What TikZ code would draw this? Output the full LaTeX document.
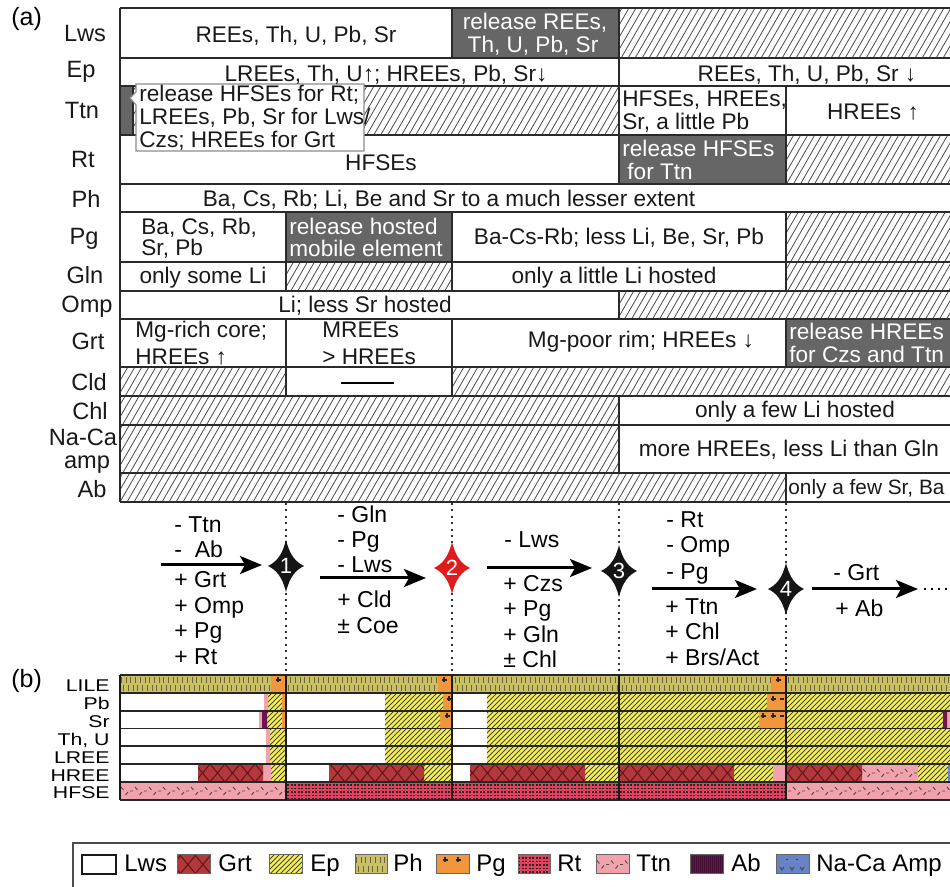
\documentclass[tikz,border=0pt]{standalone}
\usepackage{fontspec}
\setmainfont{Liberation Sans}
\usetikzlibrary{arrows.meta}
\definecolor{gcell}{HTML}{666666}
\definecolor{tlinec}{HTML}{2A2A2A}
\definecolor{phc}{HTML}{C9BF67}
\definecolor{phl}{HTML}{6B6532}
\definecolor{epc}{HTML}{F4EE5E}
\definecolor{epl}{HTML}{4A4820}
\definecolor{grc}{HTML}{B3383C}
\definecolor{grl}{HTML}{5E1518}
\definecolor{rtc}{HTML}{E3405E}
\definecolor{ttc}{HTML}{F2A2AC}
\definecolor{pgc}{HTML}{F2963E}
\definecolor{abc}{HTML}{6E1452}
\definecolor{amc}{HTML}{6683C6}
\definecolor{redstar}{HTML}{E11B1B}
\definecolor{blackstar}{HTML}{151515}

\newcommand\EpPat[3]{\begin{scope}\clip #1;\fill[epc] (60,#2) rectangle (960,#3);
 \foreach \i in {-100,-95,...,955}{\draw[epl,line width=0.45pt] (\i,#3) -- ++({#3-#2},{#2-#3});}\end{scope}}
\newcommand\GrtPat[3]{\begin{scope}\clip #1;\fill[grc] (60,#2) rectangle (960,#3);
 \foreach \i in {60,75,...,960}{\draw[grl,line width=0.5pt] (\i,#2) -- ++({(#3-#2)/1.2},{#3-#2}) (\i,#3) -- ++({(#3-#2)/1.2},{#2-#3});}\end{scope}}
\newcommand\RtPat[3]{\begin{scope}\clip #1;\fill[rtc] (60,#2) rectangle (960,#3);
 \foreach \j in {3,6.5,...,20}{\draw[black!85,line width=0.8pt,dash pattern=on 0.8pt off 0.95pt] (60,#2+\j) -- (960,#2+\j);}\end{scope}}
\newcommand\PhPat[3]{\begin{scope}\clip #1;\fill[phc] (60,#2) rectangle (960,#3);
 \draw[phl,line width=2.6pt,dash pattern=on 0.45pt off 1.9pt] (60,#2+5) -- (960,#2+5);
 \draw[phl,line width=2.6pt,dash pattern=on 0.45pt off 1.9pt,dash phase=1.2pt] (60,#3-5) -- (960,#3-5);\end{scope}}
\newcommand\TtnPat[3]{\begin{scope}\clip #1;\fill[ttc] (60,#2) rectangle (960,#3);
 \foreach \i in {60,74,...,960}{\draw[black!70,line width=0.45pt] (\i,{(#2+#3)/2}) -- ++(3,0) (\i+5,{(#2+#3)/2-4}) -- ++(2.5,3) (\i+9.5,{(#2+#3)/2+4}) -- ++(2.5,-3);}\end{scope}}
\newcommand\Pplus[2]{\draw[plusl] (#1-2.5,#2) -- (#1+2.5,#2) (#1,#2-2.5) -- (#1,#2+2.5);}
\newcommand\Rstar[4]{\begin{scope}[shift={(#1,#2)}]
 \fill[#3] (0,-26) .. controls (4,-10) and (10,-4) .. (18,0) .. controls (10,4) and (4,10) .. (0,26) .. controls (-4,10) and (-10,4) .. (-18,0) .. controls (-10,-4) and (-4,-10) .. (0,-26) -- cycle;
 \node[startxt] (st#4) at (0,0) {#4};\end{scope}}

\begin{document}
\begin{tikzpicture}[x=0.5pt,y=-0.5pt,
 tl/.style={line width=1pt, draw=tlinec},
 hatchl/.style={line width=0.4pt, draw=black!70},
 txt/.style={font=\fontsize{11.3}{13}\selectfont, inner sep=0pt, text=black!90, anchor=base},
 txtl/.style={txt, anchor=base west},
 wtxt/.style={txtl, text=white},
 rowlab/.style={font=\fontsize{11.8}{13}\selectfont, inner sep=0pt, anchor=base, text=black!90},
 rx/.style={font=\fontsize{11.5}{13}\selectfont, inner sep=0pt, anchor=base west},
 arr/.style={line width=1.5pt, -{Stealth[length=11pt,width=9pt,inset=2.5pt]}},
 dotv/.style={line width=1pt, dash pattern=on 1pt off 2.2pt, draw=black!80},
 blab/.style={font=\fontsize{8.5}{9}\selectfont, inner sep=0pt, anchor=base east},
 leg/.style={font=\fontsize{12}{13}\selectfont, inner sep=0pt, anchor=base west},
 sw/.style={draw=black!60, line width=0.5pt},
 bline/.style={line width=0.9pt, draw=black!85},
 bvline/.style={line width=1.3pt, draw=black!90},
 plusl/.style={line width=0.6pt, draw=black!85},
 startxt/.style={font=\fontsize{11}{12}\selectfont, inner sep=0pt, text=white}
]
\useasboundingbox (0,0) rectangle (950,887);
\fill[white] (0,0) rectangle (950,887);

% ================= (a) =================
\node[font=\fontsize{12.5}{14}\selectfont, inner sep=0pt, anchor=base west] (la) at (11,26) {(a)};
\fill[gcell] (452,8) rectangle (619,58) (120,86) rectangle (133,135) (619,135) rectangle (786,184)
 (286,212) rectangle (452,262) (786,319) rectangle (950,367);
\begin{scope}
\clip (619,8) rectangle (950,58) (133,86) rectangle (619,135) (786,135) rectangle (950,184)
 (786,212) rectangle (950,262) (286,262) rectangle (452,291) (786,262) rectangle (950,291)
 (619,291) rectangle (950,319) (120,367) rectangle (286,396) (452,367) rectangle (950,396)
 (120,396) rectangle (619,425) (120,425) rectangle (619,473) (120,473) rectangle (786,502);
\foreach \i in {-300,-293,...,950}{\draw[hatchl] (\i,502) -- ++(285,-494);}
\end{scope}
\foreach \y in {8,58,86,135,184,212,262,291,319,367,396,425,473,502}{\draw[tl] (120,\y) -- (950,\y);}
\draw[tl] (120,8) -- (120,502)
 (452,8) -- (452,58) (619,8) -- (619,86)
 (133,86) -- (133,135) (619,86) -- (619,184) (786,86) -- (786,184)
 (286,212) -- (286,291) (452,212) -- (452,291) (786,212) -- (786,291)
 (619,291) -- (619,319)
 (286,319) -- (286,396) (452,319) -- (452,396) (786,319) -- (786,367)
 (619,396) -- (619,473) (786,473) -- (786,502);
\draw[line width=1.2pt] (341,383) -- (394,383);
\draw[draw=black!45, line width=0.6pt, fill=white] (136,84) -- (364,84) -- (364,151) -- (136,151) -- (136,105) -- (130,98) -- (136,92) -- cycle;

% row labels
\node[rowlab] (rLws) at (85,42) {Lws};
\node[rowlab] (rEp) at (81,78) {Ep};
\node[rowlab] (rTtn) at (82,119) {Ttn};
\node[rowlab] (rRt) at (83,168) {Rt};
\node[rowlab] (rPh) at (86,208) {Ph};
\node[rowlab] (rPg) at (84,245) {Pg};
\node[rowlab] (rGln) at (85,284) {Gln};
\node[rowlab] (rOmp) at (87,313) {Omp};
\node[rowlab] (rGrt) at (88,350) {Grt};
\node[rowlab] (rCld) at (89,391) {Cld};
\node[rowlab] (rChl) at (90,420) {Chl};
\node[rowlab] (rNa) at (83,446) {Na-Ca};
\node[rowlab] (rAmp) at (87,469) {amp};
\node[rowlab] (rAb) at (92,498) {Ab};

% cell texts
\node[txt] (c1) at (296,43) {REEs, Th, U, Pb, Sr};
\node[txt,text=white] (c2) at (535,30) {release REEs,};
\node[txt,text=white] (c3) at (533,53) {Th, U, Pb, Sr};
\node[txt] (c4) at (386,82) {LREEs, Th, U↑; HREEs, Pb, Sr↓};
\node[txt] (c5) at (807,82) {REEs, Th, U, Pb, Sr ↓};
\node[txtl] (c6) at (139,102) {release HFSEs for Rt;};
\node[txtl] (c7) at (139,125) {LREEs, Pb, Sr for Lws/};
\node[txtl] (c8) at (139,148) {Czs; HREEs for Grt};
\node[txtl] (c9) at (622,107) {HFSEs, HREEs,};
\node[txtl] (c10) at (622,130) {Sr, a little Pb};
\node[txt] (c11) at (873,120) {HREEs ↑};
\node[txt] (c12) at (381,171) {HFSEs};
\node[wtxt] (c13) at (622,157) {release HFSEs};
\node[wtxt] (c14) at (627,180) {for Ttn};
\node[txt] (c15) at (449,207) {Ba, Cs, Rb; Li, Be and Sr to a much lesser extent};
\node[txtl] (c16) at (141,235) {Ba, Cs, Rb,};
\node[txtl] (c17) at (141,256) {Sr, Pb};
\node[wtxt] (c18) at (289,235) {release hosted};
\node[wtxt] (c19) at (289,257) {mobile element};
\node[txt] (c20) at (619,245) {Ba-Cs-Rb; less Li, Be, Sr, Pb};
\node[txt] (c21) at (203,284) {only some Li};
\node[txt] (c22) at (614,284) {only a little Li hosted};
\node[txt] (c23) at (365,313) {Li; less Sr hosted};
\node[txtl] (c24) at (135,338) {Mg-rich core;};
\node[txtl] (c25) at (135,365) {HREEs ↑};
\node[txtl] (c26) at (322,338) {MREEs};
\node[txtl] (c27) at (322,365) {> HREEs};
\node[txt] (c28) at (641,348) {Mg-poor rim; HREEs ↓};
\node[wtxt] (c29) at (789,340) {release HREEs};
\node[wtxt] (c30) at (789,363) {for Czs and Ttn};
\node[txt] (c31) at (795,418) {only a few Li hosted};
\node[txt] (c32) at (789,457) {more HREEs, less Li than Gln};
\node[txtl, font=\fontsize{10.4}{12}\selectfont] (c33) at (788,495) {only a few Sr, Ba};

% ================= reactions =================
\foreach \x in {286,452,619,786}{\draw[dotv] (\x,503) -- (\x,675);}
\coordinate (a1s) at (161,565); \coordinate (a1e) at (262,565);
\coordinate (a2s) at (320,578); \coordinate (a2e) at (426,578);
\coordinate (a3s) at (487,568); \coordinate (a3e) at (592,568);
\coordinate (a4s) at (652,589); \coordinate (a4e) at (757,589);
\coordinate (a5s) at (812,589); \coordinate (a5e) at (918,589);
\coordinate (d5s) at (924,589); \coordinate (d5e) at (950,589);
\draw[arr] (a1s) -- (a1e);
\draw[arr] (a2s) -- (a2e);
\draw[arr] (a3s) -- (a3e);
\draw[arr] (a4s) -- (a4e);
\draw[arr] (a5s) -- (a5e);
\draw[line width=1pt, dash pattern=on 1pt off 2.5pt] (d5s) -- (d5e);
\Rstar{286}{566}{blackstar}{1}
\Rstar{452}{568}{redstar}{2}
\Rstar{619}{571}{blackstar}{3}
\Rstar{786}{589}{blackstar}{4}

\node[rx] (t11) at (174,533) {- Ttn};
\node[rx] (t12) at (174,558) {-\ \ Ab};
\node[rx] (t13) at (174,588) {+ Grt};
\node[rx] (t14) at (174,614) {+ Omp};
\node[rx] (t15) at (174,639) {+ Pg};
\node[rx] (t16) at (174,665) {+ Rt};
\node[rx] (t21) at (337,523) {- Gln};
\node[rx] (t22) at (337,548) {- Pg};
\node[rx] (t23) at (337,573) {- Lws};
\node[rx] (t24) at (337,608) {+ Cld};
\node[rx] (t25) at (337,634) {± Coe};
\node[rx] (t31) at (504,548) {- Lws};
\node[rx] (t32) at (503,592) {+ Czs};
\node[rx] (t33) at (503,617) {+ Pg};
\node[rx] (t34) at (503,643) {+ Gln};
\node[rx] (t35) at (503,668) {± Chl};
\node[rx] (t41) at (666,528) {- Rt};
\node[rx] (t42) at (666,553) {- Omp};
\node[rx] (t43) at (666,580) {- Pg};
\node[rx] (t44) at (665,615) {+ Ttn};
\node[rx] (t45) at (665,640) {+ Chl};
\node[rx] (t46) at (665,666) {+ Brs/Act};
\node[rx] (t51) at (833,581) {- Grt};
\node[rx] (t52) at (835,617) {+ Ab};

% ================= (b) =================
\node[font=\fontsize{12.5}{14}\selectfont, inner sep=0pt, anchor=base west] (lb) at (11,688) {(b)};
\fill[white] (120,675) rectangle (950,800);
\PhPat{(120,675) rectangle (271,693) (286,675) rectangle (438,693) (452,675) rectangle (771,693) (786,675) rectangle (950,693)}{675}{693}
\fill[pgc] (271,675) rectangle (286,693) (438,675) rectangle (452,693) (771,675) rectangle (786,693)
 (282,693) rectangle (286,711) (443,693) rectangle (452,711) (767,693) rectangle (786,711)
 (282,711) rectangle (286,728.5) (440,711) rectangle (452,728.5) (759,711) rectangle (786,728.5);
\EpPat{(268,693) rectangle (282,711) (267,711) rectangle (282,728.5) (270,728.5) rectangle (286,764) (271,764) rectangle (286,782)
 (385,693) rectangle (443,711) (385,711) rectangle (440,728.5) (385,728.5) rectangle (452,764) (424,764) rectangle (452,782)
 (487,693) rectangle (619,764) (585,764) rectangle (619,782)
 (619,693) rectangle (767,711) (619,711) rectangle (759,728.5) (619,728.5) rectangle (786,764) (734,764) rectangle (773,782)
 (786,693) rectangle (950,711) (786,711) rectangle (943,728.5) (786,728.5) rectangle (950,764) (918,764) rectangle (948,782)}{675}{800}
\TtnPat{(120,782) rectangle (286,800) (786,782) rectangle (950,800)}{782}{800}
\TtnPat{(862,764) rectangle (918,782)}{764}{782}
\fill[ttc] (264,693) rectangle (268,711) (259,711) rectangle (262,728.5) (266,728.5) rectangle (270,764)
 (263,764) rectangle (271,782) (773,764) rectangle (786,782) (947,711) rectangle (950,728.5);
\fill[abc] (262,711) rectangle (267,728.5) (943,711) rectangle (947,728.5);
\GrtPat{(198,764) rectangle (263,782) (329,764) rectangle (424,782) (470,764) rectangle (585,782) (619,764) rectangle (734,782) (786,764) rectangle (862,782)}{764}{782}
\RtPat{(286,782) rectangle (786,800)}{782}{800}
\fill[amc] (948,764) rectangle (950,782);
\Pplus{278}{680}\Pplus{444}{680}\Pplus{449}{699}\Pplus{447}{716}
\Pplus{778}{680}\Pplus{773}{699}\Pplus{763}{716}\Pplus{773}{716}
\draw[plusl] (780,699) -- (784,699) (780,716) -- (784,716);
\foreach \y in {675,693,711,728.5,746,764,782,800}{\draw[bline] (120,\y) -- (950,\y);}
\foreach \x in {120,286,452,619,786}{\draw[bvline] (\x,675) -- (\x,800);}
\node[blab] (bLILE) at (110,692) {\scalebox{1.25}[1]{LILE}};
\node[blab] (bPb) at (110,710) {\scalebox{1.25}[1]{Pb}};
\node[blab] (bSr) at (110,728) {\scalebox{1.25}[1]{Sr}};
\node[blab] (bTh) at (110,746) {\scalebox{1.25}[1]{Th, U}};
\node[blab] (bLREE) at (110,764) {\scalebox{1.25}[1]{LREE}};
\node[blab] (bHREE) at (110,782) {\scalebox{1.25}[1]{HREE}};
\node[blab] (bHFSE) at (110,799) {\scalebox{1.25}[1]{HFSE}};

% ================= legend =================
\draw[line width=0.8pt, draw=black!70] (73,889) -- (73,843) -- (952,843);
\draw[sw, draw=black!90, line width=0.7pt, fill=white] (82,855) rectangle (116,874);
\node[leg] (gLws) at (124,872) {Lws};
\GrtPat{(177,855) rectangle (210,874)}{855}{874}
\draw[sw] (177,855) rectangle (210,874);
\node[leg] (gGrt) at (218,872) {Grt};
\EpPat{(269,855) rectangle (302,874)}{855}{874}
\draw[sw] (269,855) rectangle (302,874);
\node[leg] (gEp) at (310,872) {Ep};
\PhPat{(355,855) rectangle (387,874)}{855}{874}
\draw[sw] (355,855) rectangle (387,874);
\node[leg] (gPh) at (393,872) {Ph};
\fill[pgc] (436,855) rectangle (469,874);
\Pplus{445}{860}\Pplus{458}{860}
\draw[sw] (436,855) rectangle (469,874);
\node[leg] (gPg) at (476,872) {Pg};
\RtPat{(518,855) rectangle (550,874)}{855}{874}
\draw[sw] (518,855) rectangle (550,874);
\node[leg] (gRt) at (557,872) {Rt};
\TtnPat{(596,855) rectangle (629,874)}{855}{874}
\draw[sw] (596,855) rectangle (629,874);
\node[leg] (gTtn) at (636,872) {Ttn};
\fill[abc] (690,855) rectangle (723,874);
\foreach \x in {692,694,...,722}{\draw[black!40!abc, line width=0.3pt] (\x,856) -- (\x,873);}
\draw[sw] (690,855) rectangle (723,874);
\node[leg] (gAb) at (731,872) {Ab};
\fill[amc] (776,855) rectangle (809,874);
\foreach \x in {782,792,802}{\draw[black!70, line width=0.5pt] (\x-2,867) -- (\x,870) -- (\x+2,867);}
\foreach \x in {787,797}{\draw[black!70, line width=0.5pt] (\x-1,860) -- (\x+1,860);}
\draw[sw] (776,855) rectangle (809,874);
\node[leg] (gNa) at (816,872) {Na-Ca Amp};
\end{tikzpicture}
\end{document}
